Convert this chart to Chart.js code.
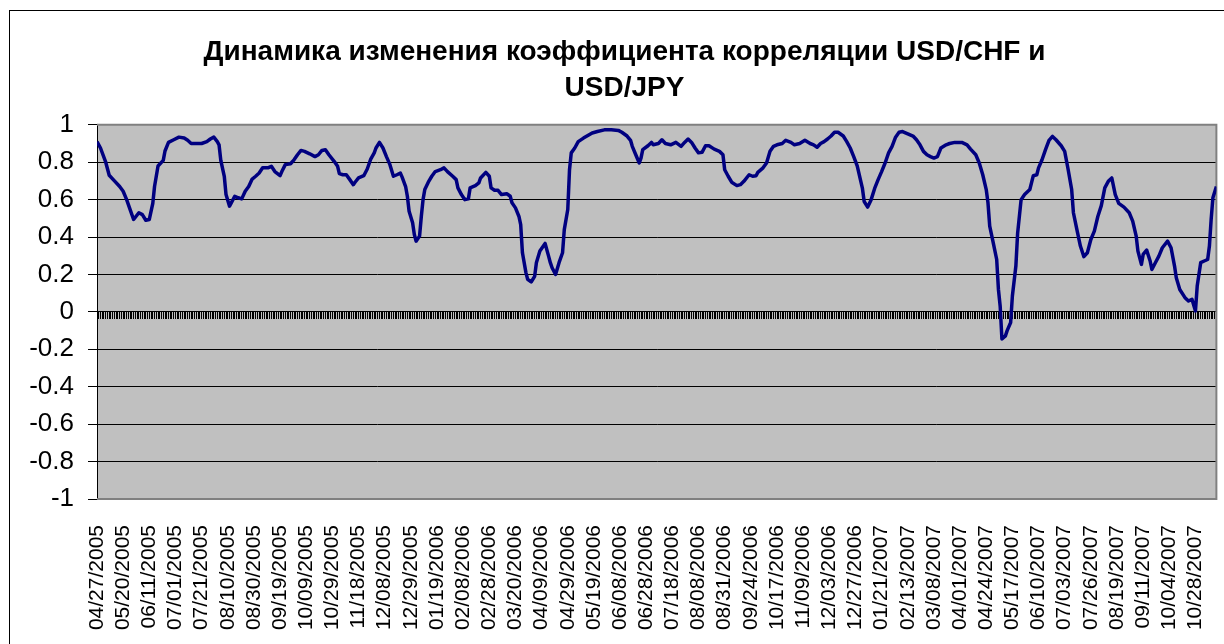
<!DOCTYPE html>
<html>
<head>
<meta charset="utf-8">
<script src="https://cdn.jsdelivr.net/npm/chart.js@4.4.1/dist/chart.umd.min.js"></script>
<style>
    html, body { margin: 0; padding: 0; background: #fff; overflow: hidden; }
    #frame { position: absolute; left: 9px; top: 10px; width: 1229px; height: 650px; border: 1px solid #000; background: #fff; }
    #frame canvas { display: block; }
</style>
</head>
<body>
<div id="frame"><canvas id="corrChart" width="1229" height="650"></canvas></div>
<script>
// Подписи оси X (каждый 15-й торговый день)
const dateLabels = [
    '04/27/2005', '05/20/2005', '06/11/2005', '07/01/2005', '07/21/2005', '08/10/2005',
    '08/30/2005', '09/19/2005', '10/09/2005', '10/29/2005', '11/18/2005', '12/08/2005',
    '12/29/2005', '01/19/2006', '02/08/2006', '02/28/2006', '03/20/2006', '04/09/2006',
    '04/29/2006', '05/19/2006', '06/08/2006', '06/28/2006', '07/18/2006', '08/08/2006',
    '08/31/2006', '09/24/2006', '10/17/2006', '11/09/2006', '12/03/2006', '12/27/2006',
    '01/21/2007', '02/13/2007', '03/08/2007', '04/01/2007', '04/24/2007', '05/17/2007',
    '06/10/2007', '07/03/2007', '07/26/2007', '08/19/2007', '09/11/2007', '10/04/2007',
    '10/28/2007'
];
const labelStep = 15;

// Номер торгового дня (0 = 04/27/2005) для каждой снятой точки
const dayIndex = [
    0, 2, 5, 7, 10, 13, 15, 17, 19, 21,
    24, 26, 28, 30, 32, 33, 35, 38, 39, 41,
    44, 47, 50, 52, 54, 58, 60, 63, 65, 67,
    69, 70, 71, 73, 74, 76, 77, 79, 81, 83,
    85, 87, 89, 91, 93, 95, 98, 100, 102, 105,
    106, 108, 111, 113, 115, 117, 119, 122, 125, 127,
    129, 131, 133, 136, 138, 139, 141, 143, 145, 147,
    148, 150, 153, 155, 157, 159, 160, 162, 164, 166,
    168, 170, 172, 174, 175, 177, 178, 179, 181, 182,
    183, 185, 186, 187, 188, 190, 192, 194, 197, 199,
    201, 204, 206, 207, 209, 211, 213, 214, 217, 219,
    220, 223, 225, 226, 228, 230, 232, 235, 237, 238,
    240, 242, 243, 244, 246, 247, 249, 251, 252, 254,
    257, 259, 260, 261, 263, 265, 267, 268, 270, 271,
    272, 274, 276, 279, 281, 284, 287, 291, 295, 299,
    301, 304, 306, 307, 309, 311, 312, 313, 316, 318,
    319, 322, 324, 326, 329, 332, 335, 337, 339, 341,
    343, 345, 347, 349, 351, 354, 357, 359, 360, 362,
    364, 367, 369, 371, 374, 376, 378, 379, 382, 384,
    386, 388, 390, 393, 395, 398, 400, 403, 406, 409,
    411, 413, 415, 417, 419, 421, 423, 425, 428, 430,
    432, 434, 436, 439, 440, 442, 444, 446, 448, 450,
    452, 454, 456, 458, 460, 462, 465, 468, 470, 472,
    474, 476, 478, 480, 482, 484, 487, 489, 492, 496,
    499, 501, 504, 506, 508, 510, 511, 512, 514, 516,
    517, 518, 519, 521, 522, 524, 525, 527, 528, 530,
    532, 535, 537, 539, 540, 542, 544, 546, 548, 550,
    553, 555, 557, 559, 560, 562, 564, 566, 568, 570,
    572, 574, 576, 578, 580, 582, 584, 586, 589, 592,
    594, 596, 597, 599, 600, 602, 604, 605, 607, 609,
    611, 614, 616, 618, 619, 621, 624, 626, 628, 630,
    631, 633, 635, 637, 638, 639, 640, 642
];

// Коэффициент корреляции USD/CHF и USD/JPY
const corrValues = [
    0.91, 0.876, 0.80, 0.73, 0.70, 0.67, 0.645, 0.60, 0.547, 0.494,
    0.53, 0.52, 0.49, 0.494, 0.58, 0.67, 0.78, 0.81, 0.86, 0.906,
    0.92, 0.934, 0.929, 0.917, 0.90, 0.90, 0.90, 0.91, 0.924, 0.934,
    0.91, 0.893, 0.81, 0.725, 0.627, 0.565, 0.583, 0.618, 0.61, 0.604,
    0.645, 0.67, 0.71, 0.725, 0.742, 0.77, 0.77, 0.778, 0.75, 0.728,
    0.75, 0.787, 0.792, 0.813, 0.84, 0.863, 0.858, 0.845, 0.83, 0.84,
    0.863, 0.867, 0.84, 0.805, 0.778, 0.739, 0.733, 0.733, 0.707, 0.68,
    0.693, 0.716, 0.728, 0.764, 0.817, 0.85, 0.876, 0.906, 0.876, 0.83,
    0.787, 0.725, 0.733, 0.742, 0.72, 0.67, 0.618, 0.538, 0.476, 0.414,
    0.378, 0.405, 0.51, 0.60, 0.654, 0.693, 0.725, 0.75, 0.76, 0.77,
    0.75, 0.725, 0.707, 0.663, 0.627, 0.60, 0.604, 0.663, 0.675, 0.69,
    0.716, 0.746, 0.725, 0.663, 0.65, 0.65, 0.627, 0.632, 0.618, 0.583,
    0.556, 0.51, 0.467, 0.316, 0.21, 0.174, 0.16, 0.19, 0.263, 0.325,
    0.366, 0.298, 0.263, 0.236, 0.20, 0.263, 0.316, 0.44, 0.547, 0.76,
    0.85, 0.876, 0.91, 0.929, 0.94, 0.956, 0.964, 0.973, 0.973, 0.97,
    0.96, 0.94, 0.917, 0.885, 0.84, 0.796, 0.822, 0.867, 0.888, 0.906,
    0.893, 0.90, 0.92, 0.90, 0.893, 0.906, 0.885, 0.906, 0.924, 0.906,
    0.876, 0.85, 0.853, 0.888, 0.888, 0.87, 0.858, 0.84, 0.76, 0.725,
    0.693, 0.675, 0.68, 0.698, 0.733, 0.725, 0.728, 0.746, 0.77, 0.796,
    0.858, 0.885, 0.893, 0.90, 0.917, 0.906, 0.893, 0.90, 0.917, 0.90,
    0.893, 0.88, 0.90, 0.91, 0.924, 0.94, 0.96, 0.96, 0.94, 0.91,
    0.876, 0.83, 0.78, 0.66, 0.59, 0.56, 0.60, 0.66, 0.707, 0.75,
    0.796, 0.85, 0.885, 0.934, 0.96, 0.964, 0.952, 0.94, 0.92, 0.893,
    0.858, 0.84, 0.83, 0.822, 0.83, 0.876, 0.893, 0.90, 0.906, 0.906,
    0.893, 0.87, 0.84, 0.796, 0.733, 0.654, 0.583, 0.458, 0.37, 0.28,
    0.12, 0.03, -0.145, -0.128, -0.10, -0.057, 0.085, 0.245, 0.42, 0.60,
    0.627, 0.654, 0.728, 0.733, 0.77, 0.813, 0.867, 0.917, 0.938, 0.92,
    0.888, 0.858, 0.76, 0.654, 0.53, 0.44, 0.352, 0.295, 0.316, 0.387,
    0.432, 0.51, 0.568, 0.663, 0.698, 0.716, 0.627, 0.58, 0.56, 0.53,
    0.485, 0.405, 0.325, 0.254, 0.307, 0.33, 0.272, 0.227, 0.263, 0.298,
    0.343, 0.378, 0.343, 0.245, 0.183, 0.12, 0.076, 0.058, 0.067, 0.005,
    0.138, 0.263, 0.272, 0.28, 0.352, 0.494, 0.61, 0.67
];

const titleLines = ['Динамика изменения коэффициента корреляции USD/CHF и', 'USD/JPY'];
const yMin = -1;
const yMax = 1;
const yStep = 0.2;

const lastDay = dayIndex[dayIndex.length - 1];
const FONT = '"Liberation Sans", Arial, sans-serif';

Chart.defaults.color = '#000';
Chart.defaults.font.family = FONT;

// Серый фон области построения и рамка как в Excel
const plotFrame = {
    id: 'plotFrame',
    beforeDraw(chart) {
        const { ctx, chartArea: a } = chart;
        ctx.save();
        ctx.fillStyle = '#C0C0C0';
        ctx.fillRect(a.left, a.top, a.right - a.left, a.bottom - a.top);
        ctx.restore();
    },
    beforeDatasetsDraw(chart) {
        const { ctx, chartArea: a } = chart;
        ctx.save();
        ctx.strokeStyle = '#808080';
        ctx.lineWidth = 2;
        ctx.beginPath();
        ctx.moveTo(a.left, a.top);
        ctx.lineTo(a.right, a.top);
        ctx.lineTo(a.right, a.bottom);
        ctx.lineTo(a.left, a.bottom);
        ctx.stroke();
        ctx.restore();
    }
};

const points = dayIndex.map((d, i) => ({ x: d, y: corrValues[i] }));

const corrChart = new Chart(document.getElementById('corrChart'), {
    type: 'line',
    data: {
        datasets: [{
            label: 'USD/CHF - USD/JPY',
            data: points,
            borderColor: '#000080',
            borderWidth: 3.5,
            pointRadius: 0,
            tension: 0,
            fill: false,
            borderJoinStyle: 'round',
            xAxisID: 'x',
            yAxisID: 'y'
        }]
    },
    options: {
        responsive: false,
        animation: false,
        devicePixelRatio: 1,
        layout: { padding: 0 },
        plugins: {
            legend: { display: false },
            tooltip: { enabled: false },
            title: {
                display: true,
                text: titleLines,
                color: '#000',
                font: { family: FONT, size: 28, weight: 'bold', lineHeight: 1.3 },
                padding: { top: 23, bottom: 18 }
            }
        },
        scales: {
            x: {
                type: 'linear',
                position: 'bottom',
                min: 0,
                max: lastDay,
                grid: { display: false },
                border: { display: false },
                ticks: {
                    stepSize: labelStep,
                    includeBounds: false,
                    autoSkip: false,
                    minRotation: 90,
                    maxRotation: 90,
                    padding: 18,
                    color: '#000',
                    font: { family: FONT, size: 21 },
                    callback: v => (v % labelStep === 0 && dateLabels[v / labelStep]) || ''
                },
                afterFit: s => { s.height = 162; }
            },
            // ось категорий, проходящая через ноль, с засечками на каждый день
            xTicks: {
                type: 'linear',
                axis: 'x',
                position: { y: 0 },
                min: 0,
                max: lastDay,
                grid: { drawOnChartArea: false, drawTicks: true, tickLength: 7, tickColor: '#000' },
                border: { display: true, color: '#000', width: 1 },
                ticks: { display: false, stepSize: 1 },
                afterFit: s => { s.height = 0; }
            },
            y: {
                type: 'linear',
                position: 'left',
                min: yMin,
                max: yMax,
                grid: {
                    color: c => (c.tick && Math.abs(c.tick.value) > 0.99) ? 'rgba(0,0,0,0)' : '#000',
                    tickColor: '#000',
                    tickLength: 9,
                    lineWidth: 1
                },
                border: { display: true, color: '#000', width: 1 },
                ticks: {
                    stepSize: yStep,
                    padding: 14,
                    color: '#000',
                    font: { family: FONT, size: 26 },
                    callback: v => String(Math.round(v * 10) / 10)
                },
                afterFit: s => { s.width = 87; }
            },
            yPad: {
                type: 'linear',
                position: 'right',
                grid: { display: false },
                border: { display: false },
                ticks: { display: false },
                afterFit: s => { s.width = 18; }
            }
        }
    },
    plugins: [plotFrame]
});
</script>
</body>
</html>
